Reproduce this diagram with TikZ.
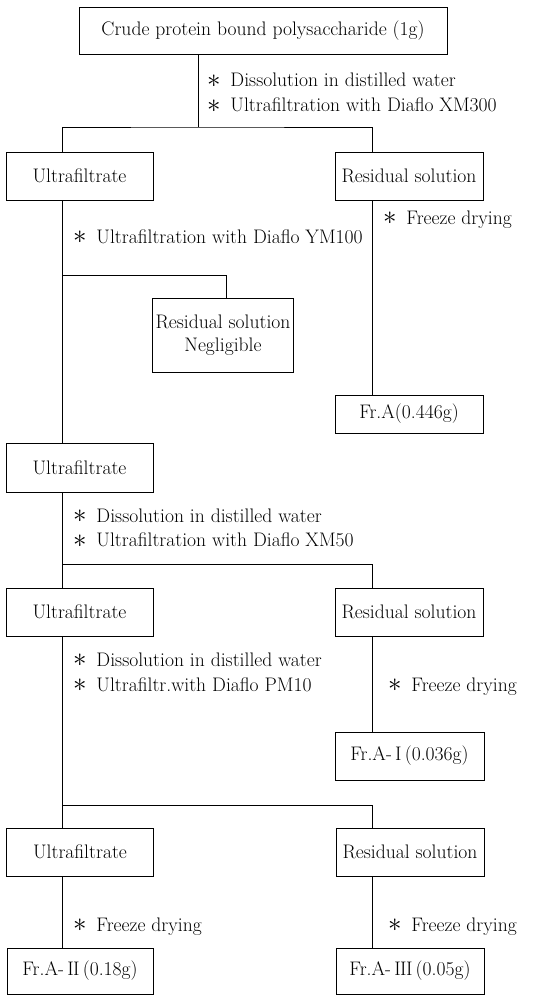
\documentclass[tikz,border=0pt]{standalone}
\usepackage{fontspec}
\setmainfont{Latin Modern Roman}
\usetikzlibrary{calc}
\newcommand{\romII}{I\kern-.03em I}
\newcommand{\romIII}{I\kern-.03em I\kern-.03em I}
\newcommand{\stp}{\raisebox{-0.1ex}{\scalebox{1.3}{$\ast$}}\hspace{0.5em}}
\begin{document}
\begin{tikzpicture}[x=1pt,y=-1pt,
  every node/.style={font=\fontsize{19.6}{22.5}\selectfont},
  box/.style={draw,line width=0.8pt,inner sep=0pt,align=center,minimum height=48pt},
  lbl/.style={anchor=west,inner sep=0pt,text height=14pt,text depth=2pt},
  conn/.style={line width=0.8pt}]
\useasboundingbox (0,0) rectangle (537,996);
% boxes
\node[box,minimum width=368pt,minimum height=47pt] (top) at (263,30.5) {Crude protein bound polysaccharide (1g)};
\node[box,minimum width=147pt] (U1) at (79.5,176) {Ultrafiltrate};
\node[box,minimum width=148pt] (R1) at (409,176) {Residual solution};
\node[box,minimum width=141pt,minimum height=74pt] (RN) at (223,335) {Residual solution\\Negligible};
\node[box,minimum width=148pt,minimum height=38pt] (FA) at (409,414) {Fr.A(0.446g)};
\node[box,minimum width=147pt,minimum height=49pt] (U2) at (79.5,467.5) {Ultrafiltrate};
\node[box,minimum width=147pt] (U3) at (79.5,612) {Ultrafiltrate};
\node[box,minimum width=148pt] (R2) at (409,612) {Residual solution};
\node[box,minimum width=149pt] (FAI) at (409.5,756) {Fr.A-\,I\,(0.036g)};
\node[box,minimum width=147pt] (U4) at (80,852) {Ultrafiltrate};
\node[box,minimum width=148pt] (R3) at (410,852) {Residual solution};
\node[box,minimum width=146pt,minimum height=46pt] (FAII) at (80,971) {Fr.A-\,\romII\,(0.18g)};
\node[box,minimum width=148pt,minimum height=46pt] (FAIII) at (410,971) {Fr.A-\,\romIII\,(0.05g)};
% junction coordinates
\coordinate (L) at (62,0);
\coordinate (R) at (372,0);
\coordinate (j1) at (198,127);
\coordinate (j2) at (226,275);
\coordinate (j3) at (62,564);
\coordinate (j4) at (62,805);
% connectors
\draw[conn] (top.south -| j1) -- (j1);
\draw[conn] (U1.north -| L) |- (j1) -| (R1.north -| R);
\draw[conn] (U1.south -| L) -- (U2.north -| L);
\draw[conn] (L |- j2) -- (j2) -- (RN.north -| j2);
\draw[conn] (R1.south -| R) -- (FA.north -| R);
\draw[conn] (U2.south -| L) -- (U3.north -| L);
\draw[conn] (j3) -| (R2.north -| R);
\draw[conn] (R2.south -| R) -- (FAI.north -| R);
\draw[conn] (U3.south -| L) -- (U4.north -| L);
\draw[conn] (j4) -| (R3.north -| R);
\draw[conn] (U4.south -| L) -- (FAII.north -| L);
\draw[conn] (R3.south -| R) -- (FAIII.north -| R);
% labels
\node[lbl] (t1a) at (207,80.5) {\stp Dissolution in distilled water};
\node[lbl] (t1b) at (207,105.5) {\stp Ultrafiltration with Diaflo XM300};
\node[lbl] (t2) at (73,237) {\stp Ultrafiltration with Diaflo YM100};
\node[lbl] (t3) at (383,218) {\stp Freeze drying};
\node[lbl] (t4a) at (73,516) {\stp Dissolution in distilled water};
\node[lbl] (t4b) at (73,540.5) {\stp Ultrafiltration with Diaflo XM50};
\node[lbl] (t5a) at (73,660) {\stp Dissolution in distilled water};
\node[lbl] (t5b) at (73,685) {\stp Ultrafiltr.with Diaflo PM10};
\node[lbl] (t6) at (388,685) {\stp Freeze drying};
\node[lbl] (t7) at (73,925) {\stp Freeze drying};
\node[lbl] (t8) at (388,925) {\stp Freeze drying};
\end{tikzpicture}
\end{document}
